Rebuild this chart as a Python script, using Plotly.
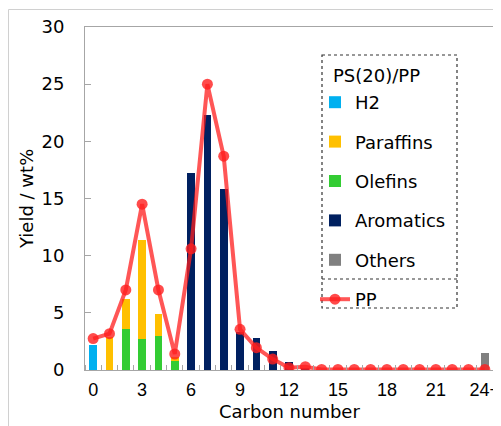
import plotly.graph_objects as go

carbon = list(range(25))
tick_vals = [0, 3, 6, 9, 12, 15, 18, 21, 24]
tick_text = ["0", "3", "6", "9", "12", "15", "18", "21", "24+"]

h2 =        [2.2] + [0]*24
paraffins = [0, 2.9, 2.7, 8.65, 1.93, 0.4] + [0]*19
olefins =   [0, 0, 3.55, 2.7, 3.0, 0.75] + [0]*19
aromatics = [0, 0, 0, 0, 0, 0, 17.27, 22.3, 15.8, 3.3, 2.8, 1.7, 0.7, 0.15] + [0]*11
others =    [0]*24 + [1.5]
pp = [2.75, 3.18, 7.0, 14.5, 7.0, 1.4, 10.6, 25.0, 18.7, 3.56, 1.95, 0.96,
      0.2, 0.29, 0.05, 0.05, 0.05, 0.05, 0.05, 0.05, 0.05, 0.05, 0.05, 0.05, 0.05]

FONT = "DejaVu Sans, Liberation Sans, Arial, sans-serif"
TICKFONT = "Liberation Sans"
FS = 18
OFF = 8  # page body margin
W, H = 501 - OFF, 426 - OFF
L, T = 85 - OFF, 27 - OFF
R = W - (493 - OFF)
B = H - (370 - OFF)
PW, PH = W - L - R, H - T - B

def px(x):
    # page pixel -> paper coordinate
    return (x - OFF - L) / PW

def py(y):
    return 1 - (y - OFF - T) / PH

fig = go.Figure()
bar_w = 0.47
series = [
    ("H2", h2, "#00B0F0", 1),
    ("Olefins", olefins, "#33CC33", 3),
    ("Paraffins", paraffins, "#FFC000", 2),
    ("Aromatics", aromatics, "#002060", 4),
    ("Others", others, "#808080", 5),
]
for name, vals, col, rank in series:
    fig.add_trace(go.Bar(x=carbon, y=vals, name=name, marker_color=col,
                         marker_line_width=0, width=bar_w, legendrank=rank,
                         legendgroup=name))
fig.add_trace(go.Scatter(x=carbon, y=pp, name="PP", mode="lines+markers",
                         line=dict(color="rgba(255,30,30,0.75)", width=4),
                         marker=dict(color="rgba(255,30,30,0.8)", size=11),
                         legendrank=6, legendgroup="PP"))

axis_col = "#a6a6a6"
dash_col = "#333333"
fig.update_layout(
    width=W, height=H, barmode="stack",
    margin=dict(l=L, r=R, t=T, b=B, pad=0),
    paper_bgcolor="white", plot_bgcolor="white",
    font=dict(family=FONT, size=FS, color="black"),
    showlegend=True,
    legend=dict(x=px(315), y=py(84), xanchor="left", yanchor="top",
                bgcolor="rgba(0,0,0,0)", borderwidth=0,
                traceorder="grouped", tracegroupgap=13,
                itemwidth=30, font=dict(size=FS)),
    xaxis=dict(range=[-0.5, 24.5], tickvals=tick_vals, ticktext=tick_text,
               ticks="", showgrid=False, zeroline=False, automargin=False,
               showline=True, linecolor=axis_col, linewidth=1, mirror=True,
               ticklabelstandoff=3,
               tickfont=dict(family=TICKFONT, size=18),
               minor=dict(tickvals=[i + 0.5 for i in range(-1, 25)],
                          ticks="inside", ticklen=5, tickcolor=axis_col,
                          showgrid=False)),
    yaxis=dict(range=[0, 30], dtick=5, ticks="inside", ticklen=6,
               tickcolor=axis_col, showgrid=False, zeroline=False,
               automargin=False,
               showline=True, linecolor=axis_col, linewidth=1, mirror=True,
               ticklabelstandoff=16),
    annotations=[
        dict(text="Yield / wt%", textangle=-90, xref="paper", yref="paper",
             x=px(26), y=py(199), showarrow=False, xanchor="center",
             yanchor="middle", font=dict(size=FS)),
        dict(text="Carbon number", xref="paper", yref="paper",
             x=px(289), y=py(411), showarrow=False, xanchor="center",
             yanchor="middle", font=dict(size=FS)),
        dict(text="PS(20)/PP", xref="paper", yref="paper",
             x=px(331), y=py(75), showarrow=False, xanchor="left",
             yanchor="middle", font=dict(size=FS)),
    ],
    shapes=[
        dict(type="rect", xref="paper", yref="paper",
             x0=px(8.5), x1=px(530), y0=py(9.5), y1=py(460),
             line=dict(color="#d0d0d0", width=1), layer="above"),
        dict(type="rect", xref="paper", yref="paper",
             x0=px(322), x1=px(457), y0=py(55), y1=py(308),
             line=dict(color=dash_col, width=1.2, dash="dot")),
        dict(type="line", xref="paper", yref="paper",
             x0=px(322), x1=px(457), y0=py(279), y1=py(279),
             line=dict(color=dash_col, width=1.2, dash="dot")),
    ],
)

fig.write_html("out.html")
